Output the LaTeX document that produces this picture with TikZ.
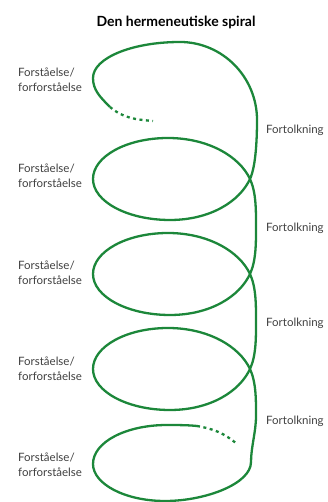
\documentclass[tikz,border=0pt]{standalone}
\usepackage{fontspec}
\setmainfont{Lato}
\definecolor{spiral}{RGB}{28,135,58}
\definecolor{txt}{RGB}{64,64,64}
\tikzset{
  spiralline/.style={draw=spiral, line width=2.3pt},
  dashline/.style={draw=spiral, line width=2.3pt, dash pattern=on 3pt off 3.5pt},
  lbl/.style={anchor=west, align=left, text=txt, font=\fontsize{11.5}{15}\selectfont, inner sep=0pt},
  ttl/.style={text=black, font=\fontsize{14}{16}\selectfont\bfseries, inner sep=0pt}
}
\begin{document}
\begin{tikzpicture}[x=1pt,y=1pt]
\useasboundingbox (0,0) rectangle (328,502);
\node[ttl] (title) at (176,480) {Den hermeneutiske spiral};
% spiral
\path[spiralline] (110,395) .. controls (100,405) and (93,412) .. (93,424)
  .. controls (93,444) and (132,460) .. (180,460)
  .. controls (222.5,460) and (257,425) .. (257,382)
  .. controls (257,367) and (256.3,336.6) .. (250,323)
  .. controls (239.4,300.3) and (210,282) .. (170,282)
  .. controls (127.5,282) and (93,300.4) .. (93,323)
  .. controls (93,345.6) and (126.6,364) .. (168,364)
  .. controls (208,364) and (239.4,345.7) .. (250,323)
  .. controls (256.3,309.4) and (256,290.5) .. (256,275.5)
  .. controls (256,260.5) and (256.3,241.6) .. (250,228)
  .. controls (239.4,205.3) and (210,187) .. (170,187)
  .. controls (127.5,187) and (93,205.4) .. (93,228)
  .. controls (93,250.6) and (126.6,269) .. (168,269)
  .. controls (208,269) and (239.4,250.7) .. (250,228)
  .. controls (256.3,214.4) and (256,195.5) .. (256,180.5)
  .. controls (256,165.5) and (256.3,146.6) .. (250,133)
  .. controls (239.4,110.3) and (210,92) .. (170,92)
  .. controls (127.5,92) and (93,110.4) .. (93,133)
  .. controls (93,155.6) and (126.6,174) .. (168,174)
  .. controls (208,174) and (239.4,155.7) .. (250,133)
  .. controls (256.3,119.4) and (256,101) .. (256,86)
  .. controls (256,70) and (251,55) .. (251,40)
  .. controls (251,18) and (205,1) .. (165,1)
  .. controls (125,1) and (93,18) .. (93,38)
  .. controls (93,60) and (126,77) .. (167,77)
  .. controls (180,77) and (190,76.8) .. (197,76);
\path[dashline] (110,395) to[out=-40,in=175] (153,381);
\path[dashline] (197,76) to[out=-10,in=140] (237,58);
% labels
\node[lbl] (f1) at (18,422) {Forståelse/\\forforståelse};
\node[lbl] (f2) at (18,326.5) {Forståelse/\\forforståelse};
\node[lbl] (f3) at (18,229.5) {Forståelse/\\forforståelse};
\node[lbl] (f4) at (18,133) {Forståelse/\\forforståelse};
\node[lbl] (f5) at (18,37.5) {Forståelse/\\forforståelse};
\node[lbl] (t1) at (266,372) {Fortolkning};
\node[lbl] (t2) at (266,274) {Fortolkning};
\node[lbl] (t3) at (266,179) {Fortolkning};
\node[lbl] (t4) at (266,81) {Fortolkning};
\end{tikzpicture}
\end{document}
